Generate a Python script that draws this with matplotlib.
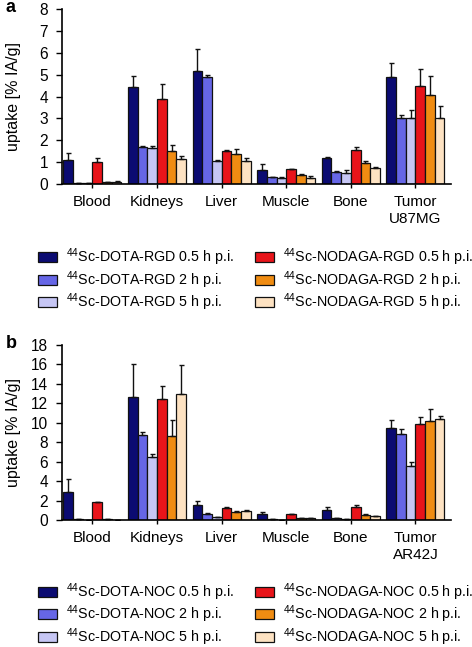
import matplotlib
matplotlib.use("Agg")
import matplotlib.pyplot as plt
import numpy as np

plt.rcParams['font.family'] = ['Liberation Sans', 'DejaVu Sans']
plt.rcParams['mathtext.default'] = 'regular'

categories_a = ["Blood", "Kidneys", "Liver", "Muscle", "Bone", "Tumor\nU87MG"]
categories_b = ["Blood", "Kidneys", "Liver", "Muscle", "Bone", "Tumor\nAR42J"]

series_a = [r"$^{44}$Sc-DOTA-RGD 0.5 h p.i.", r"$^{44}$Sc-DOTA-RGD 2 h p.i.", r"$^{44}$Sc-DOTA-RGD 5 h p.i.",
            r"$^{44}$Sc-NODAGA-RGD 0.5 h p.i.", r"$^{44}$Sc-NODAGA-RGD 2 h p.i.", r"$^{44}$Sc-NODAGA-RGD 5 h p.i."]
series_b = [r"$^{44}$Sc-DOTA-NOC 0.5 h p.i.", r"$^{44}$Sc-DOTA-NOC 2 h p.i.", r"$^{44}$Sc-DOTA-NOC 5 h p.i.",
            r"$^{44}$Sc-NODAGA-NOC 0.5 h p.i.", r"$^{44}$Sc-NODAGA-NOC 2 h p.i.", r"$^{44}$Sc-NODAGA-NOC 5 h p.i."]

# values per series (rows) across organs (columns)
values_a = [
    [1.10, 4.45, 5.15, 0.65, 1.17, 4.90],
    [0.05, 1.70, 4.90, 0.30, 0.55, 3.00],
    [0.05, 1.65, 1.05, 0.27, 0.50, 3.00],
    [1.00, 3.90, 1.50, 0.68, 1.55, 4.50],
    [0.10, 1.50, 1.35, 0.42, 0.95, 4.05],
    [0.10, 1.15, 1.05, 0.28, 0.75, 3.00],
]
errors_a = [
    [0.30, 0.50, 1.00, 0.25, 0.05, 0.65],
    [0.00, 0.05, 0.10, 0.03, 0.05, 0.15],
    [0.00, 0.07, 0.05, 0.03, 0.15, 0.40],
    [0.20, 0.65, 0.05, 0.02, 0.15, 0.75],
    [0.00, 0.30, 0.25, 0.03, 0.10, 0.90],
    [0.05, 0.15, 0.15, 0.07, 0.03, 0.55],
]
values_b = [
    [2.90, 12.60, 1.50, 0.60, 1.05, 9.50],
    [0.10, 8.70, 0.60, 0.15, 0.20, 8.80],
    [0.05, 6.50, 0.30, 0.05, 0.10, 5.60],
    [1.85, 12.40, 1.20, 0.60, 1.35, 9.90],
    [0.15, 8.60, 0.85, 0.25, 0.50, 10.20],
    [0.05, 13.00, 0.90, 0.20, 0.40, 10.40],
]
errors_b = [
    [1.30, 3.40, 0.50, 0.25, 0.25, 0.80],
    [0.00, 0.40, 0.10, 0.00, 0.00, 0.60],
    [0.00, 0.30, 0.00, 0.00, 0.00, 0.40],
    [0.05, 1.40, 0.10, 0.05, 0.15, 0.70],
    [0.00, 1.70, 0.10, 0.00, 0.10, 1.20],
    [0.00, 2.90, 0.10, 0.00, 0.05, 0.30],
]

colors = ["#0b0b72", "#6666e6", "#c6c6f4", "#e8141a", "#f08c12", "#fde2c2"]

fig = plt.figure(figsize=(4.72, 6.47), dpi=100)

def draw(rect, cats, series, values, errors, ymax, ystep, letter, legend_y):
    ax = fig.add_axes(rect)
    n = len(series)
    x = np.arange(len(cats))
    group = 0.9
    w = group / n
    handles = []
    for i in range(n):
        pos = x - group / 2 + w * (i + 0.5)
        v = np.array(values[i])
        e = np.array(errors[i])
        b = ax.bar(pos, v, width=w, color=colors[i], edgecolor="#111111", linewidth=0.9,
                   yerr=[np.zeros_like(e), e], capsize=1.8,
                   error_kw=dict(ecolor="#111111", elinewidth=1.0, capthick=1.0), zorder=2)
        handles.append(b)
    ax.set_xlim(-0.47, len(cats) - 0.45)
    ax.set_ylim(0, ymax)
    ax.set_yticks(np.arange(0, ymax + 0.01, ystep))
    ax.set_xticks(x)
    ax.set_xticklabels(cats, fontsize=11, linespacing=1.3)
    ax.tick_params(axis='y', labelsize=11.2, length=4, width=1, direction='out', pad=6)
    ax.tick_params(axis='x', length=3, width=1, direction='out', pad=5)
    for s in ["top", "right"]:
        ax.spines[s].set_visible(False)
    for s in ["left", "bottom"]:
        ax.spines[s].set_linewidth(1.2)
    ax.set_ylabel("uptake [% IA/g]", fontsize=11.5, va='center')
    ax.yaxis.set_label_coords(-0.125, 0.5)
    fig.text(0.012, rect[1] + rect[3] + 0.002, letter, fontsize=13, fontweight='bold', va='center', ha='left')
    fig.legend(handles, series, loc='upper left', bbox_to_anchor=(0.0805, legend_y), ncol=2,
               frameon=False, fontsize=10.3, handlelength=1.3, handleheight=0.7,
               labelspacing=0.06, columnspacing=1.5, handletextpad=0.63,
               borderaxespad=0, borderpad=0)
    return ax

draw([0.1314, 0.7156, 0.824, 0.2705], categories_a, series_a, values_a, errors_a, 8, 1, "a", 0.619)
draw([0.1314, 0.1963, 0.824, 0.2705], categories_b, series_b, values_b, errors_b, 18, 2, "b", 0.102)

fig.savefig("out.png", dpi=100)
